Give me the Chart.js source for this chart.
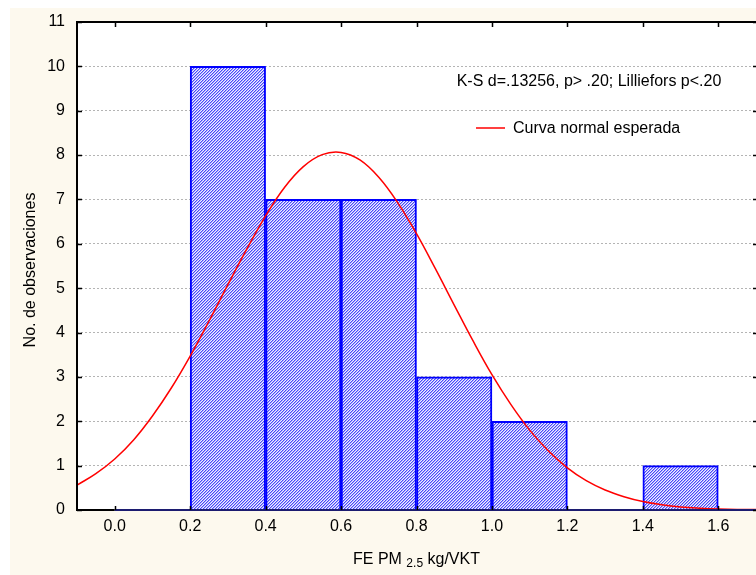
<!DOCTYPE html>
<html>
<head>
<meta charset="utf-8">
<script src="https://cdn.jsdelivr.net/npm/chart.js@4"></script>
<style>
  html, body { margin: 0; padding: 0; background: #ffffff; }
  #wrap { width: 756px; height: 575px; }
</style>
</head>
<body>
<div id="wrap"><canvas id="chartHist"></canvas></div>
<script>
// histogram bins (centres, width 0.2) and counts
const binCenters = [0.1, 0.3, 0.5, 0.7, 0.9, 1.1, 1.3, 1.5];
const binCounts = [0, 10, 7, 7, 3, 2, 0, 1];

// expected normal curve
const curveX = [-0.10, -0.05, 0.00, 0.05, 0.10, 0.15, 0.20, 0.25, 0.30, 0.35, 0.40, 0.45, 0.50, 0.55,
    0.60, 0.65, 0.70, 0.75, 0.80, 0.85, 0.90, 0.95, 1.00, 1.05, 1.10, 1.15, 1.20, 1.25, 1.30, 1.35,
    1.40, 1.45, 1.50, 1.55, 1.60, 1.65, 1.70];
const curveY = [0.56, 0.82, 1.15, 1.58, 2.12, 2.75, 3.47, 4.26, 5.08, 5.88, 6.63, 7.27, 7.74, 8.01,
    8.06, 7.89, 7.50, 6.93, 6.23, 5.44, 4.62, 3.81, 3.05, 2.38, 1.80, 1.33, 0.95, 0.66, 0.45, 0.30,
    0.19, 0.12, 0.07, 0.04, 0.02, 0.01, 0.01];

const xTicks = [0.0, 0.2, 0.4, 0.6, 0.8, 1.0, 1.2, 1.4, 1.6];
const yTicks = [0, 1, 2, 3, 4, 5, 6, 7, 8, 9, 10, 11];

const statsText = 'K-S d=.13256, p> .20; Lilliefors p<.20';
const curveLabel = 'Curva normal esperada';
const yTitle = 'No. de observaciones';

const FONT = 'Arial, "Liberation Sans", sans-serif';

// diagonal hatch for the bars
function hatchPattern(ctx) {
    const shades = ['#4848f8', '#a8a8ff', '#f0f0ff'];
    const c = document.createElement('canvas');
    c.width = 6;
    c.height = 6;
    const p = c.getContext('2d');
    for (let y = 0; y < 6; y++) {
        for (let x = 0; x < 6; x++) {
            p.fillStyle = shades[(x + y) % 3];
            p.fillRect(x, y, 1, 1);
        }
    }
    return ctx.createPattern(c, 'repeat');
}

const framePlugin = {
    id: 'frame',
    beforeDraw(chart) {
        const { ctx, chartArea: a, width, height } = chart;
        ctx.save();
        ctx.fillStyle = '#ffffff';
        ctx.fillRect(0, 0, width, height);
        ctx.fillStyle = '#fdf9ee';
        ctx.fillRect(10, 8, width - 10, height - 8);
        ctx.fillStyle = '#ffffff';
        ctx.fillRect(a.left, a.top, a.right - a.left, a.bottom - a.top);
        ctx.restore();
    },
    afterDraw(chart) {
        const { ctx, chartArea: a, scales } = chart;
        const xs = scales.x, ys = scales.y;
        ctx.save();
        ctx.strokeStyle = '#000000';
        ctx.lineWidth = 2;
        ctx.beginPath();
        ctx.moveTo(a.left, a.top);
        ctx.lineTo(a.right, a.top);
        ctx.moveTo(a.left, a.top - 1);
        ctx.lineTo(a.left, a.bottom + 1);
        ctx.moveTo(a.left, a.bottom);
        ctx.lineTo(xs.getPixelForValue(0), a.bottom);
        ctx.stroke();
        ctx.strokeStyle = '#1c1c70';
        ctx.beginPath();
        ctx.moveTo(xs.getPixelForValue(0), a.bottom);
        ctx.lineTo(a.right, a.bottom);
        ctx.stroke();

        // inner tick marks
        ctx.strokeStyle = '#000000';
        ctx.lineWidth = 1.5;
        ctx.beginPath();
        xTicks.forEach(v => {
            const px = Math.round(xs.getPixelForValue(v)) + 0.5;
            ctx.moveTo(px, a.top);
            ctx.lineTo(px, a.top + 5);
            ctx.moveTo(px, a.bottom);
            ctx.lineTo(px, a.bottom - 4);
        });
        yTicks.forEach(v => {
            const py = Math.round(ys.getPixelForValue(v)) + 0.5;
            ctx.moveTo(a.left, py);
            ctx.lineTo(a.left + 5, py);
            ctx.moveTo(a.right, py);
            ctx.lineTo(a.right - 3, py);
        });
        ctx.stroke();

        // stats line and legend
        ctx.fillStyle = '#000000';
        ctx.font = '16px ' + FONT;
        ctx.textAlign = 'center';
        ctx.textBaseline = 'alphabetic';
        ctx.fillText(statsText, 589, 86);

        ctx.strokeStyle = '#ff0000';
        ctx.lineWidth = 1.5;
        ctx.beginPath();
        ctx.moveTo(476, 128);
        ctx.lineTo(505, 128);
        ctx.stroke();
        ctx.textAlign = 'left';
        ctx.fillText(curveLabel, 513, 133);

        // x title with subscript
        const cx = (a.left + a.right) / 2;
        const p1 = 'FE PM', sub = '2.5', p2 = ' kg/VKT';
        ctx.font = '16px ' + FONT;
        const w1 = ctx.measureText(p1 + ' ').width;
        const w3 = ctx.measureText(p2).width;
        ctx.font = '12px ' + FONT;
        const w2 = ctx.measureText(sub).width;
        let x0 = cx - (w1 + w2 + w3) / 2;
        ctx.font = '16px ' + FONT;
        ctx.fillText(p1, x0, 564);
        ctx.font = '12px ' + FONT;
        ctx.fillText(sub, x0 + w1, 567);
        ctx.font = '16px ' + FONT;
        ctx.fillText(p2, x0 + w1 + w2, 564);

        // y title
        ctx.translate(35, (a.top + a.bottom) / 2 + 4);
        ctx.rotate(-Math.PI / 2);
        ctx.textAlign = 'center';
        ctx.fillText(yTitle, 0, 0);
        ctx.restore();
    }
};

const canvas = document.getElementById('chartHist');
const ctx = canvas.getContext('2d');

new Chart(ctx, {
    type: 'bar',
    data: {
        datasets: [{
            type: 'line',
            data: curveX.map((x, i) => ({ x: x, y: curveY[i] })),
            borderColor: '#ff0000',
            borderWidth: 1.5,
            pointRadius: 0,
            tension: 0.4,
            fill: false,
            order: 0,
        }, {
            type: 'bar',
            data: binCenters.map((x, i) => ({ x: x, y: binCounts[i] })),
            backgroundColor: hatchPattern(ctx),
            borderColor: '#0000ff',
            borderWidth: 2,
            barPercentage: 1,
            categoryPercentage: 1,
            order: 1,
        }],
    },
    options: {
        responsive: true,
        maintainAspectRatio: false,
        animation: false,
        layout: { padding: { top: 22, left: 0, right: 0, bottom: 0 } },
        plugins: {
            legend: { display: false },
            tooltip: { enabled: false },
        },
        scales: {
            x: {
                type: 'linear',
                min: -0.1,
                max: 1.7,
                offset: false,
                afterFit: s => { s.height = 65; },
                afterBuildTicks: s => { s.ticks = xTicks.map(v => ({ value: v })); },
                grid: { display: false, drawTicks: false },
                border: { display: false },
                ticks: {
                    padding: 7,
                    color: '#000000',
                    font: { family: FONT, size: 16 },
                    callback: v => Number(v).toFixed(1),
                },
            },
            y: {
                min: 0,
                max: 11,
                afterFit: s => { s.width = 77; },
                afterBuildTicks: s => { s.ticks = yTicks.map(v => ({ value: v })); },
                grid: {
                    drawTicks: false,
                    color: '#b4b4b4',
                    lineWidth: 1,
                },
                border: { display: false, dash: [2, 2] },
                ticks: {
                    padding: 12,
                    color: '#000000',
                    font: { family: FONT, size: 16 },
                },
            },
        },
    },
    plugins: [framePlugin],
});
</script>
</body>
</html>
